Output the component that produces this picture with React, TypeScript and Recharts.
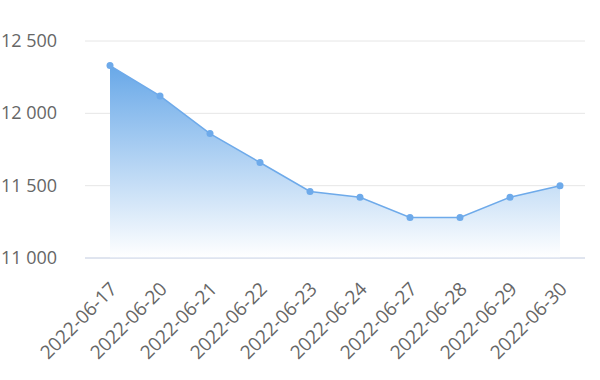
import React from 'react';
import { AreaChart, Area, XAxis, YAxis, CartesianGrid } from 'recharts';

const dates = ['2022-06-17', '2022-06-20', '2022-06-21', '2022-06-22', '2022-06-23', '2022-06-24', '2022-06-27', '2022-06-28', '2022-06-29', '2022-06-30'];
const values = [12330, 12120, 11860, 11660, 11460, 11420, 11280, 11280, 11420, 11500];
const yTicks = [11000, 11500, 12000, 12500];

const data = dates.map((d, i) => ({ date: d, value: values[i] }));

const fmt = (v: number) => String(v).replace(/\B(?=(\d{3})+(?!\d))/g, ' ');

const FONT = '"Open Sans", "DejaVu Sans", sans-serif';

const XTick = (props: any) => {
  const { x, y, payload } = props;
  return (
    <g transform={`translate(${x + 4},${y + 20})`}>
      <text
        x={0}
        y={0}
        dy={6}
        textAnchor="end"
        transform="rotate(-45)"
        fill="#666666"
        fontSize={19}
        fontFamily={FONT}
      >
        {payload.value}
      </text>
    </g>
  );
};

const YTick = (props: any) => {
  const { y, payload } = props;
  return (
    <text x={1} y={y} dy={6} textAnchor="start" fill="#666666" fontSize={18} fontFamily={FONT}>
      {fmt(payload.value)}
    </text>
  );
};

export default function App() {
  return (
    <div style={{ position: 'absolute', left: 0, top: 0, background: '#fff' }}>
      <AreaChart
        width={600}
        height={380}
        data={data}
        margin={{ top: 41, right: 15, bottom: 0, left: 0 }}
      >
        <defs>
          <linearGradient id="areaGrad" x1="0" y1="0" x2="0" y2="1">
            <stop offset="0%" stopColor="#68a8e8" stopOpacity={1} />
            <stop offset="100%" stopColor="#ffffff" stopOpacity={1} />
          </linearGradient>
        </defs>
        <CartesianGrid vertical={false} stroke="#e6e6e6" />
        <XAxis
          dataKey="date"
          padding={{ left: 25, right: 25 }}
          tickLine={false}
          axisLine={{ stroke: '#ccd6eb' }}
          tick={<XTick />}
          interval={0}
          height={122}
        />
        <YAxis
          domain={[11000, 12500]}
          ticks={yTicks}
          axisLine={false}
          tickLine={false}
          width={85}
          tick={<YTick />}
        />
        <Area
          type="linear"
          dataKey="value"
          stroke="#6eaaea"
          strokeWidth={1.5}
          fill="url(#areaGrad)"
          fillOpacity={1}
          baseValue={11000}
          dot={{ r: 3.5, fill: '#6eaaea', stroke: '#6eaaea', strokeWidth: 0 }}
          activeDot={false}
          isAnimationActive={false}
        />
      </AreaChart>
    </div>
  );
}
